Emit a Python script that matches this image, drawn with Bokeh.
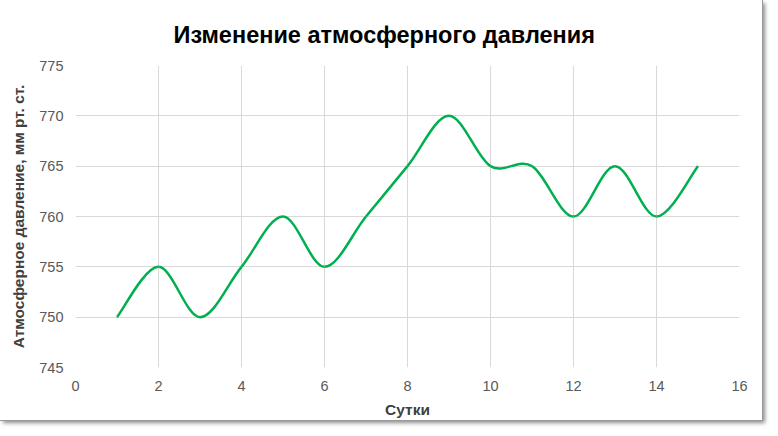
from bokeh.plotting import figure
from bokeh.models import ColumnDataSource, Range1d, SingleIntervalTicker, Title
from bokeh.embed import file_html
from bokeh.resources import INLINE

days = [1, 2, 3, 4, 5, 6, 7, 8, 9, 10, 11, 12, 13, 14, 15]
pressure = [750, 755, 750, 755, 760, 755, 760, 765, 770, 765, 765, 760, 765, 760, 765]
title_text = "Изменение атмосферного давления"
x_label = "Сутки"
y_label = "Атмосферное давление, мм рт. ст."

# Smoothed line rendering (Catmull-Rom -> cubic Bezier), as in the spreadsheet chart
n = len(days)
x0, y0, x1, y1, cx0, cy0, cx1, cy1 = [], [], [], [], [], [], [], []
for i in range(n - 1):
    pa = max(i - 1, 0)
    pb = min(i + 2, n - 1)
    x0.append(days[i]); y0.append(pressure[i])
    x1.append(days[i + 1]); y1.append(pressure[i + 1])
    cx0.append(days[i] + (days[i + 1] - days[pa]) / 6)
    cy0.append(pressure[i] + (pressure[i + 1] - pressure[pa]) / 6)
    cx1.append(days[i + 1] - (days[pb] - days[i]) / 6)
    cy1.append(pressure[i + 1] - (pressure[pb] - pressure[i]) / 6)
src = ColumnDataSource(dict(x0=x0, y0=y0, x1=x1, y1=y1, cx0=cx0, cy0=cy0, cx1=cx1, cy1=cy1))

p = figure(width=762, height=420, output_backend="svg", toolbar_location=None,
           x_range=Range1d(0, 16), y_range=Range1d(745, 775),
           min_border_left=75, min_border_right=23, min_border_top=65, min_border_bottom=1)
p.styles = {"outline": "1px solid #9a9a9a", "box-shadow": "3px 3px 4px rgba(0,0,0,0.45)"}

t = Title(text=title_text, align="left", text_font="Liberation Sans", text_font_size="23.5px",
          text_font_style="bold", text_color="#000000", offset=98, standoff=35)
p.add_layout(t, "above")
p.title.visible = False

p.bezier(x0="x0", y0="y0", x1="x1", y1="y1", cx0="cx0", cy0="cy0", cx1="cx1", cy1="cy1",
         source=src, line_color="#00B050", line_width=2.5)

p.outline_line_color = None
p.background_fill_color = "white"
p.border_fill_color = "white"

p.xaxis.ticker = SingleIntervalTicker(interval=2)
p.yaxis.ticker = SingleIntervalTicker(interval=5)
for ax in (p.xaxis[0], p.yaxis[0]):
    ax.axis_line_color = None
    ax.major_tick_line_color = None
    ax.minor_tick_line_color = None
    ax.major_label_text_font = "Liberation Sans"
    ax.major_label_text_font_size = "14.5px"
    ax.major_label_text_color = "#595959"
    ax.axis_label_text_font = "Liberation Sans"
    ax.axis_label_text_font_size = "15.5px"
    ax.axis_label_text_font_style = "bold"
    ax.axis_label_text_color = "#404040"
p.xaxis.axis_label = x_label
p.yaxis.axis_label = y_label
p.xaxis.major_label_standoff = 7
p.yaxis.major_label_standoff = 6
p.xaxis.axis_label_standoff = 7
p.yaxis.axis_label_standoff = 9

p.xgrid.grid_line_color = "#d9d9d9"
p.ygrid.grid_line_color = "#d9d9d9"

open("out.html", "w").write(file_html(p, INLINE))
